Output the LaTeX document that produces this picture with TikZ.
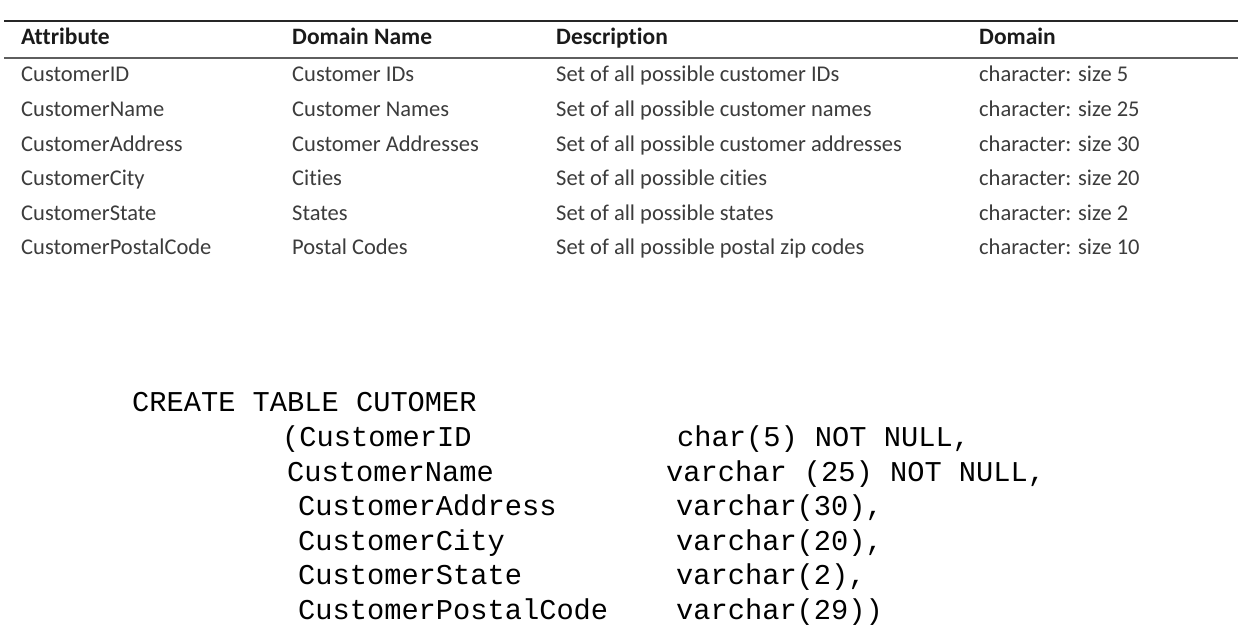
\documentclass[tikz,border=0pt]{standalone}
\usepackage{fontspec}
\newfontfamily\tabfont[Ligatures=NoCommon]{Carlito}
\newfontfamily\codefont{Liberation Mono}
\definecolor{bodygray}{HTML}{3C3C3C}
\definecolor{headblack}{HTML}{1A1A1A}
\definecolor{rulegray}{HTML}{5E5E5E}
\tikzset{
  cell/.style={anchor=base west, inner sep=0pt, text=bodygray, font=\tabfont\fontsize{22.5}{26}\selectfont},
  head/.style={anchor=base west, inner sep=0pt, text=headblack, font=\tabfont\bfseries\fontsize{23.5}{27}\selectfont},
  codetext/.style={anchor=base west, inner sep=0pt, text=black, font=\codefont\fontsize{28.7}{34}\selectfont},
  toprule/.style={draw=black!85, line width=1.6pt},
  midrule/.style={draw=rulegray, line width=2.4pt}
}
\begin{document}
\begin{tikzpicture}[x=1pt,y=-1pt]
\useasboundingbox (0,0) rectangle (1254,644);
\fill[white] (0,0) rectangle (1254,644);
% rules
\coordinate (tl) at (4,21);
\coordinate (tr) at (1238,21);
\coordinate (ml) at (4,58);
\coordinate (mr) at (1238,58);
\draw[toprule] (tl) -- (tr);
\draw[midrule] (ml) -- (mr);
% header
\node[head] (h1) at (21,45) {Attribute};
\node[head] (h2) at (292,45) {Domain Name};
\node[head] (h3) at (556,45) {Description};
\node[head] (h4) at (979,45) {Domain};
% rows
\node[cell] (a1) at (21,82) {CustomerID};
\node[cell] (b1) at (292,82) {Customer IDs};
\node[cell] (c1) at (556,82) {Set of all possible customer IDs};
\node[cell] (d1) at (979,82) {character: size 5};
\node[cell] (a2) at (21,117) {CustomerName};
\node[cell] (b2) at (292,117) {Customer Names};
\node[cell] (c2) at (556,117) {Set of all possible customer names};
\node[cell] (d2) at (979,117) {character: size 25};
\node[cell] (a3) at (21,152) {CustomerAddress};
\node[cell] (b3) at (292,152) {Customer Addresses};
\node[cell] (c3) at (556,152) {Set of all possible customer addresses};
\node[cell] (d3) at (979,152) {character: size 30};
\node[cell] (a4) at (21,186) {CustomerCity};
\node[cell] (b4) at (292,186) {Cities};
\node[cell] (c4) at (556,186) {Set of all possible cities};
\node[cell] (d4) at (979,186) {character: size 20};
\node[cell] (a5) at (21,221) {CustomerState};
\node[cell] (b5) at (292,221) {States};
\node[cell] (c5) at (556,221) {Set of all possible states};
\node[cell] (d5) at (979,221) {character: size 2};
\node[cell] (a6) at (21,255) {CustomerPostalCode};
\node[cell] (b6) at (292,255) {Postal Codes};
\node[cell] (c6) at (556,255) {Set of all possible postal zip codes};
\node[cell] (d6) at (979,255) {character: size 10};
% code
\node[codetext] (k0) at (132,412) {CREATE TABLE CUTOMER};
\node[codetext] (k1) at (282,446.5) {(CustomerID};
\node[codetext] (v1) at (677,446.5) {char(5) NOT NULL,};
\node[codetext] (k2) at (287,481) {CustomerName};
\node[codetext] (v2) at (666,481) {varchar (25) NOT NULL,};
\node[codetext] (k3) at (298,515.5) {CustomerAddress};
\node[codetext] (v3) at (676,515.5) {varchar(30),};
\node[codetext] (k4) at (298,550) {CustomerCity};
\node[codetext] (v4) at (676,550) {varchar(20),};
\node[codetext] (k5) at (298,584.5) {CustomerState};
\node[codetext] (v5) at (676,584.5) {varchar(2),};
\node[codetext] (k6) at (298,619) {CustomerPostalCode};
\node[codetext] (v6) at (676,619) {varchar(29))};
\end{tikzpicture}
\end{document}
